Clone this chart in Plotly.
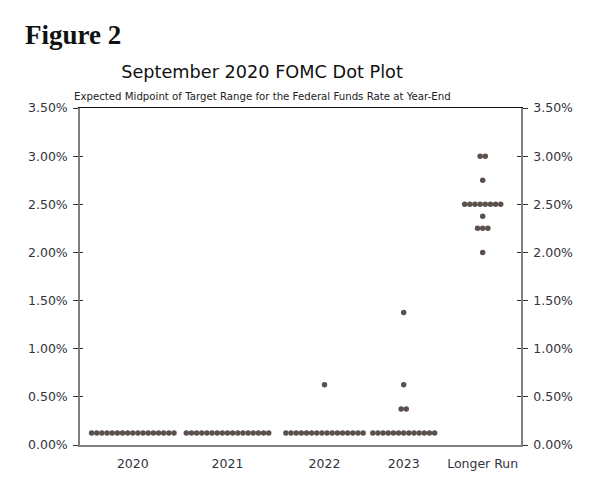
import plotly.graph_objects as go

# ---- data ----
categories = ["2020", "2021", "2022", "2023", "Longer Run"]
levels_2020 = [0.125]
counts_2020 = [17]
levels_2021 = [0.125]
counts_2021 = [17]
levels_2022 = [0.125, 0.625]
counts_2022 = [16, 1]
levels_2023 = [0.125, 0.375, 0.625, 1.375]
counts_2023 = [13, 2, 1, 1]
levels_lr = [2.0, 2.25, 2.375, 2.5, 2.75, 3.0]
counts_lr = [1, 3, 1, 8, 1, 2]
y_ticks = [0, 0.5, 1.0, 1.5, 2.0, 2.5, 3.0, 3.5]
y_tick_labels = ["0.00%", "0.50%", "1.00%", "1.50%", "2.00%", "2.50%", "3.00%", "3.50%"]

series = [(levels_2020, counts_2020), (levels_2021, counts_2021),
          (levels_2022, counts_2022), (levels_2023, counts_2023),
          (levels_lr, counts_lr)]

# ---- layout helpers (horizontal placement of categories, in plot px units) ----
cat_pos = [52.8, 147.5, 244.5, 323.7, 402.7]
dot_gap = 5.15

xs, ys = [], []
for pos, (lv, ct) in zip(cat_pos, series):
    for v, n in zip(lv, ct):
        for j in range(n):
            xs.append(pos + (j - (n - 1) / 2) * dot_gap)
            ys.append(v)

DOT = "#5a504c"
AX = "#808080"
TXT = "#333340"
FONT = "DejaVu Sans"
OFF = 8  # page body margin offset

fig = go.Figure()
fig.add_trace(go.Scatter(x=xs, y=ys, mode="markers",
                         marker=dict(size=5.5, color=DOT, line=dict(width=0)),
                         hoverinfo="skip", showlegend=False))
# helper traces so overlay axes render
fig.add_trace(go.Scatter(x=[None], y=[None], xaxis="x2", yaxis="y", showlegend=False))
fig.add_trace(go.Scatter(x=[None], y=[None], xaxis="x", yaxis="y2", showlegend=False))
fig.add_trace(go.Scatter(x=[None], y=[None], xaxis="x", yaxis="y3", showlegend=False))
fig.add_trace(go.Scatter(x=[None], y=[None], xaxis="x", yaxis="y4", showlegend=False))

yfmt = dict(range=[0, 3.5], tickvals=y_ticks, ticktext=y_tick_labels,
            showgrid=False, zeroline=False, tickfont=dict(family=FONT, size=12.5, color=TXT),
            tickcolor="#333333", tickwidth=1)

W, H = 600 - OFF, 482 - OFF
fig.update_layout(
    width=W, height=H,
    margin=dict(l=80 - OFF, r=W - (80 - OFF) - 441, t=108 - OFF, b=H - (108 - OFF) - 337),
    paper_bgcolor="white", plot_bgcolor="white",
    showlegend=False,
    title=dict(text="September 2020 FOMC Dot Plot", x=(262 - OFF) / W, xanchor="center",
               y=1 - (72 - OFF) / H, yanchor="middle", yref="container",
               font=dict(family=FONT, size=17.7, color="#111111")),
    xaxis=dict(range=[0, 441], tickvals=cat_pos, ticktext=categories, ticks="",
               showline=True, linecolor=AX, linewidth=1.5, showgrid=False, zeroline=False,
               tickfont=dict(family=FONT, size=12.5, color=TXT), ticklabelstandoff=6),
    xaxis2=dict(range=[0, 441], overlaying="x", side="top", anchor="y", showline=True,
                linecolor="#111111", linewidth=1, showticklabels=False, ticks="",
                showgrid=False, zeroline=False),
    yaxis=dict(**yfmt, side="left", ticks="outside", ticklen=5, showline=True,
               linecolor=AX, linewidth=1.5, ticklabelstandoff=3),
    yaxis2=dict(**yfmt, side="right", overlaying="y", anchor="x", ticks="outside",
                ticklen=5, showline=True, linecolor=AX, linewidth=1.5, ticklabelstandoff=3),
    yaxis3=dict(range=[0, 3.5], tickvals=y_ticks, side="left", overlaying="y", anchor="x",
                ticks="inside", ticklen=3, tickcolor="#333333", showticklabels=False,
                showline=False, showgrid=False, zeroline=False),
    yaxis4=dict(range=[0, 3.5], tickvals=y_ticks, side="right", overlaying="y", anchor="x",
                ticks="inside", ticklen=4, tickcolor="#333333", showticklabels=False,
                showline=False, showgrid=False, zeroline=False),
    annotations=[
        dict(text="<b>Figure 2</b>", xref="paper", yref="paper",
             x=(23 - 80) / 441, y=1 + (108 - 35) / 337, xanchor="left", yanchor="middle",
             showarrow=False, font=dict(family="Liberation Serif", size=27, color="#111111")),
        dict(text="Expected Midpoint of Target Range for the Federal Funds Rate at Year-End",
             xref="paper", yref="paper", x=(262 - 80) / 441, y=1 + (108 - 96) / 337,
             xanchor="center", yanchor="middle", showarrow=False,
             font=dict(family=FONT, size=10.2, color="#222222")),
    ],
)

fig.write_html("out.html", config=dict(displayModeBar=False))
